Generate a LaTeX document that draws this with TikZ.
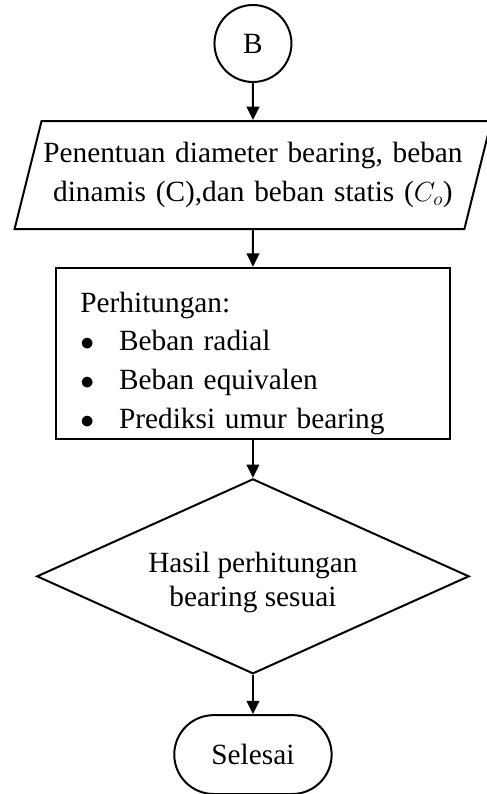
\documentclass[tikz,border=0pt]{standalone}
\usepackage{fontspec}
\setmainfont{Liberation Serif}
\usepackage{tikz}
\usetikzlibrary{shapes.geometric, arrows.meta}
\tikzstyle{connector} = [circle, minimum size=2.03cm, inner sep=0pt, draw=black,
line width=1.5pt]
\tikzstyle{io} = [trapezium,
trapezium left angle=70, trapezium right angle=110, trapezium stretches=true, minimum
height=2.85cm, align=center, draw=black, line width=1.5pt, text width=11.15cm,
inner xsep=0pt]
\tikzstyle{process} =
[rectangle, minimum width=10.37cm, minimum height=4.5cm, align=left, draw=black,
line width=1.5pt, text width=9.1cm, text height=30pt]
\tikzstyle{decision} = [diamond, aspect=2.2, minimum width=11.4cm, minimum
height=5.14cm, align=center, draw=black, line width=1.5pt, text height=46pt,
text depth=0pt, font=\fontsize{22pt}{26pt}\selectfont]
\tikzstyle{startstop} = [rectangle, rounded corners=1.04cm, minimum width=4.15cm, minimum
height=2.08cm, text centered, draw=black, line width=1.5pt]
\tikzstyle{arrow} =
[line width=1.5pt,->,>={Triangle[length=10pt,width=9.5pt]}]
\newcommand{\bulletitem}{\makebox[29pt][l]{$\bullet$}}

\begin{document}
\begin{tikzpicture}[node distance=4.7cm, font=\fontsize{22pt}{29pt}\selectfont]
\useasboundingbox (-6.67,1.147) rectangle (6.17,-19.79);

\node(conB)[connector]{B};
\node(input)[io, below of=conB, yshift=1.23cm]{Penentuan diameter bearing, beban\\
dinamis (C),dan beban statis ($C_o$)};

\node(calc)[process, below of=input]{Perhitungan:\\
\bulletitem Beban radial\\
\bulletitem Beban equivalen\\
\bulletitem Prediksi umur bearing};

\node(check)[decision, below of=calc, yshift=-1.18cm]{Hasil perhitungan\\
bearing sesuai};
\node(finish)[startstop, below of=check]{Selesai};

\draw[arrow](conB) -- (input);
\draw[arrow](input) -- (calc);
\draw[arrow](calc) -- (check);
\draw[arrow](check) -- (finish);

\end{tikzpicture}
\end{document}
